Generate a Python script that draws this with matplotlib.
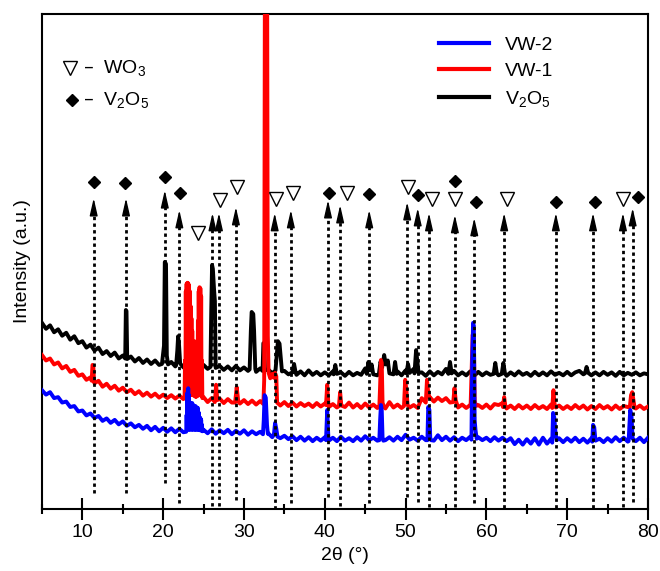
import numpy as np
import matplotlib
matplotlib.use("Agg")
import matplotlib.pyplot as plt
from matplotlib.lines import Line2D

plt.rcParams['font.family'] = ['Liberation Sans', 'DejaVu Sans']
plt.rcParams['mathtext.default'] = 'regular'

# 2theta scan grid (deg) for the background of each pattern
two_theta = np.arange(5, 80.01, 0.5)

# V2O5 background (a.u.)
v2o5_base = [37.6, 36.4, 37.1, 35.7, 36.3, 35.0, 35.6, 34.2, 34.9, 33.5,
             33.9, 32.6, 33.2, 32.0, 32.6, 31.3, 31.9, 30.9, 31.6, 30.4,
             31.0, 30.2, 30.8, 29.8, 30.5, 29.5, 30.2, 29.3, 30.0, 29.1,
             29.8, 29.0, 29.7, 28.8, 29.4, 28.6, 29.3, 28.5, 29.2, 28.4,
             29.1, 28.3, 29.0, 28.2, 28.9, 28.1, 28.8, 28.0, 28.9, 28.0,
             28.6, 27.9, 28.5, 27.7, 28.4, 27.6, 28.2, 27.4, 28.1, 27.3,
             27.9, 27.2, 28.3, 27.1, 27.8, 27.0, 28.0, 27.1, 27.7, 27.0,
             27.6, 27.0, 27.8, 27.1, 27.6, 26.9, 27.7, 27.0, 27.5, 27.1,
             28.4, 27.2, 27.9, 27.0, 28.6, 27.4, 28.2, 27.1, 27.8, 27.0,
             28.0, 27.2, 28.3, 27.1, 27.6, 26.9, 27.8, 27.0, 27.7, 27.2,
             28.3, 27.1, 27.9, 27.0, 27.6, 27.0, 27.8, 26.9, 27.7, 27.0,
             27.6, 27.1, 27.9, 27.0, 27.7, 26.9, 27.6, 27.0, 27.8, 27.1,
             27.5, 26.9, 27.7, 27.0, 27.6, 27.0, 27.8, 27.1, 27.5, 27.0,
             27.7, 27.0, 27.6, 27.9, 27.2, 28.1, 27.0, 27.6, 27.0, 27.7,
             27.1, 27.6, 26.9, 27.7, 27.0, 27.5, 27.1, 27.6, 27.0, 27.4,
             27.2]
v2o5_peaks = [
    [(15.3, 30.4), (15.38, 40.2), (15.46, 40.0), (15.55, 30.3)],
    [(19.85, 29.3), (20.0, 31.5), (20.1, 33.0), (20.2, 49.9), (20.35, 49.5), (20.45, 31.0), (20.6, 29.2)],
    [(21.6, 29.0), (21.75, 32.0), (21.85, 34.9), (21.95, 33.5), (22.1, 29.4)],
    [(25.85, 28.7), (25.95, 40.0), (26.05, 49.3), (26.15, 48.5), (26.3, 44.2), (26.4, 42.0), (26.5, 28.5)],
    [(30.7, 28.2), (30.85, 36.0), (30.95, 39.8), (31.15, 39.4), (31.25, 36.0), (31.4, 28.3)],
    [(32.3, 27.9), (32.4, 33.5), (32.5, 33.3), (32.6, 28.0)],
    [(33.9, 28.0), (34.05, 31.0), (34.2, 33.9), (34.4, 33.4), (34.55, 30.5), (34.7, 27.8)],
    [(36.0, 27.6), (36.2, 29.3), (36.4, 27.5)],
    [(41.1, 27.2), (41.3, 29.1), (41.5, 27.3)],
    [(45.2, 27.3), (45.4, 29.7), (45.6, 28.0), (45.8, 29.2), (46.0, 27.2)],
    [(46.7, 27.3), (46.9, 29.8), (47.1, 28.6), (47.35, 31.1), (47.55, 29.2), (47.8, 30.0), (48.0, 27.4)],
    [(48.5, 27.2), (48.7, 29.7), (48.9, 27.3)],
    [(50.1, 27.4), (50.3, 29.3), (50.5, 27.5)],
    [(51.1, 27.4), (51.3, 32.1), (51.45, 30.0), (51.6, 27.5)],
    [(55.3, 27.3), (55.5, 29.7), (55.7, 27.4)],
    [(60.9, 27.3), (61.1, 29.5), (61.3, 27.4)],
    [(61.9, 27.3), (62.1, 29.5), (62.3, 27.4)],
    [(72.2, 27.4), (72.4, 28.7), (72.6, 27.5)],
]

# VW-1 background and peaks
vw1_base = [31.1, 30.0, 30.4, 29.2, 29.6, 28.4, 28.9, 27.7, 28.1, 26.9,
            27.2, 26.1, 26.6, 25.4, 25.9, 24.7, 25.3, 24.3, 24.9, 23.9,
            24.5, 23.6, 24.1, 23.2, 23.8, 22.9, 23.5, 22.7, 23.3, 22.5,
            23.1, 22.4, 23.0, 22.3, 22.9, 22.2, 22.8, 22.1, 22.7, 22.0,
            22.6, 21.6, 22.4, 21.5, 22.3, 21.4, 22.2, 21.5, 22.1, 21.3,
            22.0, 21.2, 21.9, 21.1, 21.8, 21.0, 21.7, 21.0, 21.6, 20.9,
            21.6, 20.8, 21.5, 20.7, 21.4, 20.8, 21.3, 20.6, 21.4, 20.7,
            21.3, 20.6, 21.2, 20.5, 21.8, 20.6, 21.5, 20.5, 21.2, 20.4,
            21.3, 20.5, 21.1, 20.4, 21.0, 20.3, 21.6, 20.5, 21.1, 20.4,
            21.2, 20.5, 21.0, 20.4, 22.4, 21.6, 22.6, 21.7, 22.5, 21.8,
            22.4, 21.5, 21.3, 20.5, 21.1, 20.4, 21.0, 20.3, 21.0, 20.4,
            21.1, 20.3, 21.2, 21.0, 21.4, 20.3, 20.9, 20.2, 21.0, 20.3,
            20.9, 20.2, 21.0, 20.3, 20.8, 20.2, 21.1, 20.3, 20.9, 20.2,
            20.8, 20.2, 21.0, 20.3, 20.9, 20.1, 20.8, 20.2, 21.0, 20.3,
            20.8, 20.1, 20.9, 20.2, 20.8, 20.6, 21.0, 20.3, 20.9, 20.2,
            20.7]
vw1_peaks = [
    [(11.15, 25.9), (11.25, 29.1), (11.35, 29.0), (11.45, 25.6)],
    [(22.65, 22.5), (22.70, 30.0), (22.75, 22.8), (22.80, 44.0), (22.85, 23.5), (22.90, 45.5),
     (22.95, 24.0), (23.00, 45.7), (23.05, 23.0), (23.10, 45.6), (23.15, 24.5), (23.20, 45.2),
     (23.25, 23.2), (23.30, 44.0), (23.35, 24.0), (23.40, 41.0), (23.45, 23.0), (23.50, 38.5),
     (23.55, 24.5), (23.60, 36.0), (23.65, 23.0), (23.70, 34.0), (23.75, 24.0), (23.80, 32.0),
     (23.85, 22.8), (23.90, 30.5), (23.95, 23.5), (24.00, 29.0), (24.05, 22.6), (24.10, 30.0),
     (24.15, 23.4), (24.20, 34.0), (24.25, 22.8), (24.30, 38.0), (24.35, 23.2), (24.40, 44.0),
     (24.45, 23.0), (24.50, 44.8), (24.55, 23.5), (24.60, 44.6), (24.65, 22.9), (24.70, 43.0),
     (24.75, 23.0), (24.80, 30.0), (24.85, 22.4)],
    [(26.4, 21.6), (26.55, 25.1), (26.7, 22.0)],
    [(28.9, 21.5), (29.1, 24.6), (29.3, 21.7)],
    [(32.4, 21.2), (32.5, 26.0), (32.6, 120.0), (32.85, 120.0), (32.95, 35.0), (33.05, 27.5),
     (33.25, 26.4), (33.5, 27.3), (33.7, 26.5), (33.85, 27.5), (34.0, 26.8), (34.1, 21.5)],
    [(40.15, 21.0), (40.3, 25.1), (40.45, 21.1)],
    [(41.75, 20.8), (41.9, 23.6), (42.05, 20.9)],
    [(46.75, 20.6), (46.85, 25.0), (46.95, 30.1), (47.05, 29.5), (47.15, 21.5), (47.3, 20.7)],
    [(49.8, 20.8), (49.95, 26.1), (50.1, 24.0), (50.25, 21.0)],
    [(52.5, 21.5), (52.65, 26.1), (52.8, 23.5), (52.95, 22.6)],
    [(55.9, 21.6), (56.05, 24.4), (56.2, 22.0)],
    [(58.05, 21.0), (58.2, 30.0), (58.3, 35.2), (58.45, 34.5), (58.55, 22.0), (58.7, 20.8)],
    [(62.05, 20.6), (62.2, 22.6), (62.35, 20.8)],
    [(68.15, 20.4), (68.3, 24.0), (68.45, 21.0), (68.6, 20.5)],
    [(77.75, 20.5), (77.9, 23.0), (78.05, 23.6), (78.2, 22.0), (78.35, 20.4)],
]

# VW-2 background and peaks
vw2_base = [24.0, 23.1, 23.6, 22.4, 22.6, 21.5, 21.7, 20.6, 20.8, 19.7,
            19.9, 18.9, 19.3, 18.4, 18.8, 17.8, 18.3, 17.4, 18.0, 17.1,
            17.7, 16.8, 17.3, 16.5, 17.0, 16.2, 16.8, 15.9, 16.6, 15.7,
            16.4, 15.6, 16.3, 15.5, 16.2, 15.5, 16.1, 15.4, 16.2, 15.5,
            16.0, 15.3, 16.1, 15.2, 15.9, 15.3, 16.0, 15.1, 15.8, 15.2,
            15.9, 15.0, 15.7, 15.1, 15.6, 14.9, 15.3, 14.5, 15.0, 14.3,
            14.8, 14.1, 14.7, 13.9, 14.6, 13.8, 14.5, 13.7, 14.4, 13.8,
            14.5, 13.8, 14.4, 13.7, 14.6, 13.8, 14.3, 13.7, 14.5, 13.8,
            14.7, 13.9, 14.4, 13.8, 14.9, 13.9, 14.5, 13.8, 14.6, 13.9,
            15.0, 14.0, 14.4, 13.8, 14.6, 13.9, 14.5, 13.8, 14.9, 13.9,
            14.6, 13.8, 14.5, 13.7, 14.4, 13.9, 14.6, 13.8, 14.5, 13.9,
            14.4, 13.7, 14.5, 13.8, 14.4, 13.7, 14.3, 13.1, 14.0, 13.0,
            14.1, 13.2, 14.3, 13.0, 14.4, 13.2, 14.2, 13.4, 14.3, 13.5,
            14.3, 13.6, 14.4, 13.5, 14.2, 13.4, 14.3, 13.6, 14.2, 13.5,
            14.3, 13.6, 14.5, 13.7, 14.4, 13.6, 14.3, 13.7, 14.4, 13.5,
            14.4]
vw2_peaks = [
    [(22.85, 15.6), (22.90, 19.0), (22.95, 16.0), (23.00, 23.5), (23.05, 16.2), (23.10, 24.4),
     (23.15, 16.0), (23.20, 23.0), (23.25, 16.3), (23.30, 21.0), (23.35, 16.0), (23.40, 21.4),
     (23.45, 16.2), (23.50, 21.2), (23.55, 16.0), (23.60, 21.4), (23.65, 16.3), (23.70, 21.0),
     (23.75, 16.0), (23.80, 20.8), (23.85, 16.2), (23.90, 20.5), (23.95, 16.0), (24.00, 20.8),
     (24.05, 16.1), (24.10, 20.4), (24.15, 16.0), (24.20, 20.5), (24.25, 16.2), (24.30, 20.4),
     (24.35, 16.0), (24.40, 19.5), (24.45, 16.1), (24.50, 18.5), (24.55, 15.9), (24.60, 18.4),
     (24.65, 16.0), (24.70, 18.0), (24.75, 15.8), (24.80, 17.0), (24.85, 15.7), (24.90, 15.8)],
    [(32.35, 15.1), (32.45, 18.0), (32.55, 23.0), (32.7, 22.5), (32.85, 17.0), (32.95, 15.2)],
    [(33.7, 15.0), (33.85, 17.4), (34.0, 16.2), (34.15, 14.6)],
    [(40.15, 13.9), (40.3, 20.0), (40.45, 14.2)],
    [(46.75, 13.9), (46.85, 18.0), (46.95, 21.0), (47.05, 20.0), (47.15, 14.5), (47.25, 13.8)],
    [(52.7, 13.9), (52.8, 20.6), (52.95, 20.0), (53.05, 14.4), (53.15, 13.9)],
    [(58.15, 14.0), (58.25, 30.0), (58.35, 37.6), (58.45, 37.0), (58.55, 18.0), (58.65, 16.0), (58.8, 14.2)],
    [(68.15, 13.4), (68.25, 19.4), (68.4, 18.5), (68.55, 15.5), (68.7, 13.9)],
    [(73.1, 13.6), (73.2, 17.0), (73.35, 16.5), (73.5, 13.8)],
    [(77.6, 13.7), (77.7, 17.0), (77.8, 20.0), (77.95, 19.0), (78.1, 14.2)],
]

# reference reflections: dotted arrows
ref_pos = [11.4, 15.4, 20.2, 22.0, 26.1, 26.9, 29.0, 33.8, 35.8, 40.4, 41.9,
           45.5, 50.2, 51.5, 52.9, 56.1, 58.5, 62.2, 68.6, 73.2, 76.9, 78.1]
ref_low = [3.2, 3.2, 5.3, 1.2, 0.6, 0.6, 1.8, 0.0, 1.2, 2.4, 0.6,
           1.2, 2.4, 1.4, 0.4, 0.4, 1.2, 0.2, 0.2, 0.2, 0.4, 1.4]
ref_tip = [62.8, 62.8, 64.4, 60.4, 59.8, 59.8, 61.0, 59.8, 60.4, 62.4, 61.4,
           60.4, 62.0, 60.8, 59.8, 59.4, 58.8, 59.8, 59.8, 59.8, 59.8, 60.8]

wo3_x = [24.3, 27.0, 29.1, 34.0, 36.1, 42.7, 50.3, 53.3, 56.1, 62.5, 76.9]
wo3_y = [55.8, 62.4, 65.1, 62.6, 63.8, 63.8, 65.1, 62.6, 62.6, 62.6, 62.6]
v2o5_x = [11.4, 15.3, 20.2, 22.1, 40.5, 45.5, 51.5, 56.1, 58.7, 68.6, 73.4, 78.8]
v2o5_y = [66.1, 65.9, 67.1, 63.8, 63.8, 63.6, 63.4, 66.3, 62.0, 62.0, 62.0, 63.0]


def merge(base, peaks):
    pts = []
    for x, y in zip(two_theta, base):
        if not any(p[0][0] <= x <= p[-1][0] for p in peaks):
            pts.append((x, y))
    for p in peaks:
        pts.extend(p)
    pts.sort()
    return np.array(pts).T


fig = plt.figure(figsize=(6.6, 5.71), dpi=100)
ax = fig.add_axes([0.0636, 0.1086, 0.9182, 0.8669])

x, y = merge(v2o5_base, v2o5_peaks)
ax.plot(x, y, color='black', lw=2.8, zorder=2)
x, y = merge(vw1_base, vw1_peaks)
ax.plot(x, y, color='#ff0000', lw=2.8, zorder=3)
x, y = merge(vw2_base, vw2_peaks)
ax.plot(x, y, color='#0000ff', lw=2.8, zorder=4)

for xp, lo, tip in zip(ref_pos, ref_low, ref_tip):
    ax.plot([xp, xp], [lo, tip - 2.2], color='black', lw=2,
            linestyle=(0, (1.2, 1.2)), zorder=5)
    ax.annotate('', xy=(xp, tip), xytext=(xp, tip - 2.8),
                arrowprops=dict(arrowstyle='-|>,head_length=0.75,head_width=0.17',
                                color='black', lw=1.0, mutation_scale=14,
                                shrinkA=0, shrinkB=0), zorder=6)

ax.plot(wo3_x, wo3_y, linestyle='none', marker='v', ms=10,
        mfc='white', mec='black', mew=1.0, zorder=6)
ax.plot(v2o5_x, v2o5_y, linestyle='none', marker='D', ms=6.5,
        mfc='black', mec='black', zorder=6)

# phase key, top left
ax.plot([0.046], [0.891], transform=ax.transAxes, marker='v', ms=10,
        mfc='white', mec='black', mew=1.0, linestyle='none')
ax.plot([0.049], [0.826], transform=ax.transAxes, marker='D', ms=6.5,
        color='black', linestyle='none')
ax.text(0.068, 0.891, '–  WO$_3$', transform=ax.transAxes, fontsize=14,
        va='center', ha='left')
ax.text(0.068, 0.826, '–  V$_2$O$_5$', transform=ax.transAxes, fontsize=14,
        va='center', ha='left')

handles = [Line2D([], [], color='#0000ff', lw=3),
           Line2D([], [], color='#ff0000', lw=3),
           Line2D([], [], color='black', lw=3)]
ax.legend(handles, ['VW-2', 'VW-1', 'V$_2$O$_5$'], loc='upper left',
          bbox_to_anchor=(0.655, 0.955), frameon=False, fontsize=14,
          handlelength=2.6, handletextpad=0.8, labelspacing=0.45,
          borderpad=0, borderaxespad=0)

ax.set_xlim(5, 80)
ax.set_ylim(0, 100)
ax.set_xticks([10, 20, 30, 40, 50, 60, 70, 80])
ax.set_xticks(np.arange(5, 81, 10), minor=True)
ax.set_yticks([])
ax.tick_params(axis='x', which='major', direction='inout', length=16,
               width=1.5, labelsize=14, pad=3)
ax.tick_params(axis='x', which='minor', direction='inout', length=7, width=1.5)
for s in ax.spines.values():
    s.set_linewidth(1.5)

ax.set_xlabel('2θ (°)', fontsize=14, labelpad=4)
ax.set_ylabel('Intensity (a.u.)', fontsize=14, labelpad=8)

fig.savefig('out.png', dpi=100)
